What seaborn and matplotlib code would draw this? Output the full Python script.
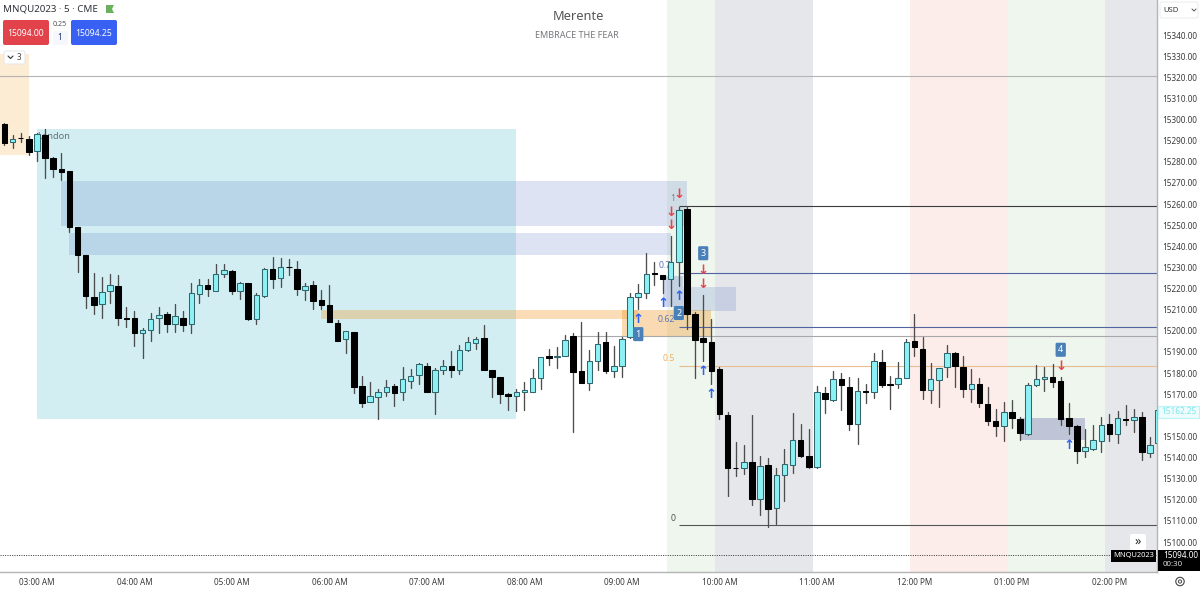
"""MNQU2023 5 minute candles with session bands and trade annotations."""
import matplotlib
matplotlib.use("Agg")
import matplotlib.pyplot as plt
import pandas as pd
import seaborn as sns
from matplotlib.patches import Circle, FancyBboxPatch, Polygon, Rectangle

first_bar = -4
bar_opens = [
    15297.9, 15289.2, 15291.4, 15290.6, 15285.2, 15292.5, 15282.0, 15276.4, 15275.5, 15249.0,
    15236.0, 15216.0, 15212.5, 15219.0, 15221.2, 15206.0, 15206.2, 15199.0, 15200.2, 15206.0,
    15208.1, 15203.3, 15205.9, 15203.2, 15217.4, 15221.7, 15219.0, 15226.7, 15228.1, 15218.6,
    15222.6, 15205.4, 15216.4, 15229.4, 15224.8, 15230.3, 15229.4, 15219.4, 15221.6, 15214.6,
    15212.0, 15203.8, 15195.9, 15199.4, 15173.8, 15166.3, 15168.5, 15170.8, 15173.8, 15170.8,
    15176.1, 15179.0, 15183.5, 15170.8, 15181.6, 15183.2, 15181.6, 15190.9, 15194.0, 15196.4,
    15181.3, 15178.0, 15170.2, 15169.3, 15170.8, 15171.2, 15177.5, 15188.0, 15187.4, 15187.9,
    15197.5, 15181.1, 15175.4, 15185.5, 15194.8, 15180.8, 15183.5, 15197.2, 15216.1, 15217.7,
    15227.3, 15226.2, 15224.5, 15232.7, 15257.6, 15207.9, 15196.6, 15194.8, 15181.7, 15160.0,
    15135.2, 15135.2, 15137.7, 15120.4, 15136.5, 15116.3, 15131.6, 15136.3, 15148.3, 15140.9,
    15135.3, 15170.5, 15167.1, 15177.0, 15173.5, 15156.0, 15171.6, 15170.8, 15185.4, 15174.8,
    15174.6, 15177.5, 15195.1, 15191.4, 15172.1, 15176.7, 15182.7, 15189.3, 15183.0, 15172.3,
    15174.8, 15165.5, 15157.1, 15154.8, 15161.5, 15158.4, 15151.3, 15174.3, 15177.0, 15178.1,
    15176.2, 15158.5, 15154.9, 15143.1, 15144.0, 15147.6, 15155.7, 15151.3, 15158.4, 15157.6,
    15159.3, 15142.3, 15147.0,
]
bar_closes = [
    15289.0, 15290.9, 15291.1, 15284.6, 15293.1, 15282.0, 15276.6, 15275.1, 15249.0, 15236.0,
    15216.4, 15212.2, 15218.5, 15221.7, 15206.0, 15205.7, 15199.0, 15200.3, 15205.4, 15207.4,
    15203.2, 15206.8, 15202.9, 15217.7, 15221.7, 15219.9, 15226.9, 15228.8, 15219.0, 15222.6,
    15205.4, 15216.8, 15229.1, 15224.5, 15230.0, 15230.0, 15219.9, 15221.3, 15214.1, 15212.2,
    15204.3, 15195.1, 15199.7, 15173.5, 15166.0, 15169.3, 15171.2, 15173.5, 15170.5, 15177.0,
    15178.4, 15184.1, 15170.8, 15181.6, 15183.5, 15181.6, 15190.9, 15194.8, 15195.9, 15181.6,
    15178.0, 15170.2, 15169.3, 15170.8, 15171.8, 15177.5, 15187.7, 15187.0, 15188.0, 15195.5,
    15180.6, 15175.4, 15185.8, 15193.6, 15180.8, 15183.3, 15196.3, 15215.8, 15217.7, 15226.7,
    15226.7, 15224.5, 15232.7, 15257.2, 15207.8, 15195.6, 15194.7, 15180.8, 15160.4, 15134.9,
    15134.9, 15138.0, 15120.4, 15136.1, 15115.5, 15131.6, 15137.0, 15148.3, 15140.6, 15135.7,
    15170.8, 15167.7, 15177.3, 15174.5, 15156.0, 15171.5, 15171.2, 15185.8, 15174.2, 15174.3,
    15177.8, 15194.8, 15192.1, 15172.1, 15177.0, 15182.2, 15189.3, 15183.2, 15172.3, 15174.8,
    15165.6, 15157.3, 15154.9, 15161.4, 15158.5, 15151.8, 15174.2, 15177.0, 15177.9, 15175.9,
    15158.0, 15155.1, 15143.2, 15145.1, 15148.3, 15155.4, 15151.1, 15158.5, 15157.9, 15159.0,
    15142.8, 15146.0, 15162.25,
]
bar_highs = [
    15298.5, 15292.8, 15293.4, 15292.2, 15293.8, 15295.3, 15282.1, 15284.0, 15275.5, 15249.0,
    15236.0, 15227.2, 15225.6, 15226.7, 15226.2, 15211.4, 15209.2, 15201.1, 15208.2, 15211.4,
    15209.0, 15212.5, 15209.2, 15222.8, 15224.7, 15224.3, 15231.7, 15231.7, 15228.8, 15223.2,
    15222.6, 15217.7, 15229.5, 15234.7, 15234.3, 15233.8, 15233.0, 15222.4, 15223.4, 15219.1,
    15221.7, 15205.1, 15200.0, 15199.4, 15178.6, 15175.9, 15172.6, 15176.7, 15174.8, 15182.7,
    15181.7, 15184.9, 15184.9, 15182.2, 15186.2, 15190.3, 15193.3, 15197.2, 15197.2, 15202.7,
    15181.4, 15178.1, 15170.4, 15172.3, 15175.9, 15181.7, 15187.7, 15191.2, 15192.1, 15198.0,
    15198.8, 15204.0, 15190.9, 15199.6, 15199.3, 15192.8, 15197.2, 15218.0, 15222.1, 15236.6,
    15232.4, 15226.4, 15244.8, 15258.7, 15259.0, 15208.7, 15216.9, 15205.6, 15182.7, 15161.5,
    15147.5, 15145.9, 15160.1, 15140.7, 15139.6, 15134.9, 15143.9, 15160.9, 15155.7, 15153.5,
    15173.9, 15173.2, 15181.0, 15180.2, 15178.3, 15177.8, 15174.8, 15189.3, 15190.9, 15178.7,
    15185.1, 15196.1, 15207.8, 15196.9, 15184.9, 15182.2, 15193.2, 15190.1, 15188.0, 15181.7,
    15177.8, 15173.2, 15163.0, 15166.1, 15167.2, 15159.0, 15175.1, 15183.8, 15183.0, 15184.3,
    15178.3, 15165.6, 15155.4, 15153.5, 15155.4, 15159.0, 15160.4, 15162.0, 15164.8, 15163.0,
    15161.4, 15149.5, 15162.25,
]
bar_lows = [
    15287.9, 15286.5, 15289.2, 15283.2, 15280.5, 15272.5, 15273.0, 15271.4, 15246.7, 15227.6,
    15211.0, 15208.0, 15206.0, 15213.3, 15202.9, 15201.8, 15192.8, 15187.2, 15195.0, 15198.8,
    15199.4, 15199.4, 15199.9, 15199.1, 15213.1, 15216.6, 15219.0, 15225.4, 15217.2, 15215.0,
    15205.1, 15203.0, 15216.1, 15220.2, 15220.9, 15226.4, 15216.9, 15214.6, 15210.3, 15210.3,
    15204.0, 15195.0, 15189.6, 15170.5, 15164.1, 15166.3, 15158.2, 15169.3, 15164.4, 15167.2,
    15172.9, 15174.8, 15170.8, 15160.4, 15179.7, 15178.0, 15179.5, 15190.6, 15191.5, 15181.4,
    15168.5, 15166.0, 15162.5, 15162.0, 15162.5, 15171.2, 15172.4, 15183.8, 15182.4, 15187.9,
    15152.2, 15175.1, 15172.0, 15181.4, 15180.2, 15178.0, 15178.3, 15196.4, 15210.1, 15215.3,
    15221.6, 15218.0, 15211.7, 15221.2, 15200.7, 15177.8, 15185.7, 15174.9, 15158.2, 15122.0,
    15131.4, 15132.2, 15117.5, 15112.8, 15107.3, 15108.5, 15119.6, 15132.8, 15140.4, 15134.9,
    15135.2, 15160.9, 15166.9, 15162.5, 15153.0, 15146.2, 15165.6, 15168.3, 15173.2, 15163.0,
    15173.1, 15177.5, 15188.2, 15167.7, 15166.0, 15163.8, 15178.0, 15173.5, 15168.8, 15166.4,
    15164.1, 15155.4, 15150.2, 15148.0, 15153.8, 15148.3, 15150.6, 15173.8, 15171.5, 15173.2,
    15155.4, 15151.1, 15137.5, 15140.1, 15143.5, 15142.8, 15148.0, 15147.0, 15155.4, 15152.2,
    15138.8, 15140.4, 15145.0,
]

# 15160 sits under the last price tag, so it has no label
price_ticks = [v for v in range(15100, 15341, 10) if v != 15160]
time_labels = ["03:00 AM", "04:00 AM", "05:00 AM", "06:00 AM", "07:00 AM", "08:00 AM",
               "09:00 AM", "10:00 AM", "11:00 AM", "12:00 PM", "01:00 PM", "02:00 PM"]
time_bars = [0, 12, 24, 36, 48, 60, 72, 84, 96, 108, 120, 132]

# session bands: start bar, end bar, colour
band_starts = [77.5, 83.5, 107.5, 119.5, 131.5]
band_ends = [83.5, 95.5, 119.5, 131.5, 138]
band_colors = ["#eef6ee", "#e6e7eb", "#fcedeb", "#eef6ee", "#e6e7eb"]

# boxes drawn on the chart: bar range, price range
zone_left = [-5, 0, 3, 4, 35, 72, 77, 79.5, 121]
zone_right = [-1, 59, 80, 78, 74, 83, 79.5, 86, 129]
zone_top = [15331, 15295.5, 15271, 15246.3, 15209.8, 15209.8, 15225.9, 15220.9, 15158.5]
zone_bottom = [15283.2, 15158.2, 15249.6, 15236, 15205.4, 15197.2, 15211.4, 15209.4, 15148.3]
zone_colors = ["#f5b04a", "#22aebf", "#5573c3", "#5573c3", "#f0941f", "#f0941f",
               "#5573c3", "#5573c3", "#55559f"]
zone_alpha = [0.24, 0.2, 0.2, 0.2, 0.32, 0.34, 0.28, 0.2, 0.3]

# levels: price, first bar, colour
level_prices = [15320.4, 15259, 15227.2, 15201.8, 15197.5, 15183.4, 15107.9]
level_starts = [-5, 79, 79, 79, 66.5, 79, 79]
level_colors = ["#b4b4b4", "#3c3c3c", "#50649f", "#50649f", "#a8a8a8", "#e8bd90", "#555555"]

sell_bars = [79, 78, 78, 82, 82, 126]
sell_prices = [15264.3, 15256.2, 15249.6, 15228.3, 15221.7, 15183.3]
buy_bars = [74, 77, 79, 82, 83, 127]
buy_prices = [15205.1, 15213.1, 15216, 15180.5, 15170, 15145.9]

badge_labels = ["1", "2", "3", "4"]
badge_bars = [74, 79, 82, 126]
badge_prices = [15198.4, 15208.4, 15236.7, 15191]

fib_labels = ["1", "0.7", "0.62", "0.5", "0"]
fib_prices = [15262.4, 15230.7, 15205.1, 15187.1, 15111.2]
fib_colors = ["#808080", "#5f77b8", "#5f77b8", "#f0b060", "#555555"]

sns.set_theme(style="white")
plt.rcParams["font.family"] = ["Noto Sans", "DejaVu Sans"]

bars = pd.DataFrame({"open": bar_opens, "close": bar_closes, "high": bar_highs, "low": bar_lows})
bars["bar"] = range(first_bar, first_bar + len(bars))
bars["bull"] = bars["close"] >= bars["open"]
wicks = bars.melt(id_vars="bar", value_vars=["low", "high"], value_name="price")

fig = plt.figure(figsize=(12, 5.9), dpi=100, facecolor="white")
ax = fig.add_axes([0, 18 / 590, 1157 / 1200, 572 / 590])

for start, end, color in zip(band_starts, band_ends, band_colors):
    ax.axvspan(start, end, color=color, lw=0, zorder=0)
for left, right, top, bottom, color, alpha in zip(zone_left, zone_right, zone_top, zone_bottom,
                                                  zone_colors, zone_alpha):
    ax.add_patch(Rectangle((left, bottom), right - left, top - bottom, facecolor=color,
                           alpha=alpha, lw=0, zorder=1))
for price, start, color in zip(level_prices, level_starts, level_colors):
    ax.hlines(price, start, 138, color=color, lw=0.8, zorder=2)
ax.axhline(15094, color="#333333", lw=0.7, ls=(0, (1, 1.4)), zorder=2)

ax.text(0, 15292, "London", fontsize=6.6, color="#62707a", va="center", zorder=2)
for label, price, color in zip(fib_labels, fib_prices, fib_colors):
    ax.text(78.0 if label == "0.7" else 78.55, price, label, fontsize=6.3, color=color,
            ha="right", va="center", zorder=2)

sns.lineplot(data=wicks, x="bar", y="price", units="bar", estimator=None, sort=False,
             color="#4d4d4d", lw=0.95, legend=False, ax=ax, zorder=3)
for is_bull, face, edge in [(True, "#8cf1f5", "#33666b"), (False, "#000000", "#000000")]:
    part = bars[bars["bull"] == is_bull]
    low = part[["open", "close"]].min(axis=1)
    high = part[["open", "close"]].max(axis=1)
    ax.bar(part["bar"], high - low, bottom=low, width=0.68, color=face, edgecolor=edge,
           linewidth=0.75, zorder=4)

for bar, price in zip(sell_bars, sell_prices):
    ax.text(bar, price, "↓", color="#e8434c", fontsize=9.5, fontweight="bold", ha="center",
            va="center", zorder=6)
for bar, price in zip(buy_bars, buy_prices):
    ax.text(bar, price, "↑", color="#2f62f0", fontsize=9.5, fontweight="bold", ha="center",
            va="center", zorder=6)
for label, bar, price in zip(badge_labels, badge_bars, badge_prices):
    ax.text(bar, price, label, color="white", fontsize=6.5, fontweight="bold", ha="center",
            va="center", zorder=7,
            bbox=dict(boxstyle="round,pad=0.28,rounding_size=0.15", fc="#4a80b8", ec="none"))

ax.set_xlim(-4.55, 137.85)
ax.set_ylim(15085.8, 15356.57)
ax.set_xlabel("")
ax.set_ylabel("")
ax.set_xticks(time_bars, time_labels)
ax.set_yticks(price_ticks, [f"{v:.2f}" for v in price_ticks])
ax.yaxis.tick_right()
ax.tick_params(axis="x", length=0, pad=4, labelsize=5.9, colors="#3c3c3c")
ax.tick_params(axis="y", length=0, pad=4, labelsize=5.9, colors="#3c3c3c")
sns.despine(ax=ax, left=True, top=True, right=False, bottom=False)
for side in ["right", "bottom"]:
    ax.spines[side].set_color("#b4b4b4")
    ax.spines[side].set_linewidth(1)

# chart chrome on a pixel overlay
ui = fig.add_axes([0, 0, 1, 1], facecolor="none")
ui.set_xlim(0, 1200)
ui.set_ylim(590, 0)
ui.axis("off")


def round_box(x, y, w, h, face, edge="none", radius=2):
    ui.add_patch(FancyBboxPatch((x + radius, y + radius), w - 2 * radius, h - 2 * radius,
                                boxstyle=f"round,pad={radius},rounding_size={radius}",
                                facecolor=face, edgecolor=edge, lw=0.7))


ui.text(3, 9, "MNQU2023 · 5 · CME", fontsize=7, color="#2f3338", va="center")
ui.add_patch(Polygon([(106, 5), (114, 5), (112, 9), (114, 13), (106, 13)], color="#6bb05d", lw=0))
round_box(3, 20, 46, 25, "#e2434b")
ui.text(26, 33, "15094.00", color="white", fontsize=6.2, ha="center", va="center")
round_box(71, 20, 46, 25, "#3860f2")
ui.text(94, 33, "15094.25", color="white", fontsize=6.2, ha="center", va="center")
ui.text(60, 24.5, "0.25", color="#555555", fontsize=5.2, ha="center", va="center")
round_box(53, 31, 15, 14, "#f5f7fd")
ui.text(60, 38, "1", color="#1f2f70", fontsize=5.8, ha="center", va="center")
round_box(4, 51, 21, 13, "white", "#e6e6e6")
ui.plot([8, 10.5, 13], [56, 58.5, 56], color="#333333", lw=0.8)
ui.text(19, 57.5, "3", color="#444444", fontsize=5.8, ha="center", va="center")

ui.text(578, 17, "Merente", fontsize=9.2, color="#555555", ha="center", va="center")
ui.text(577, 35, "EMBRACE THE FEAR", fontsize=6.5, color="#77797d", ha="center", va="center")

round_box(1160, 2, 38, 16, "white", "#ececec")
ui.text(1163, 10, "USD", fontsize=5.5, color="#333333", va="center")
ui.plot([1192, 1194, 1196], [9, 11, 9], color="#555555", lw=0.7)

ui.add_patch(Rectangle((1158, 406), 41, 11.5, facecolor="#edfcfd", edgecolor="#bdf3f6", lw=0.8))
ui.text(1178.5, 412, "15162.25", fontsize=5.9, color="#7fe6ec", ha="center", va="center")

round_box(1130, 534, 16, 16, "white")
ui.text(1138, 541, "»", fontsize=9, color="#222222", ha="center", va="center")
ui.add_patch(Rectangle((1111, 549.5), 45, 12.5, facecolor="black", lw=0))
ui.text(1133.5, 555.5, "MNQU2023", fontsize=5.4, color="white", ha="center", va="center")
ui.add_patch(Rectangle((1157.5, 550), 42.5, 21, facecolor="black", lw=0))
ui.text(1163, 555.5, "15094.00", fontsize=5.9, color="white", va="center", fontweight="bold")
ui.text(1163, 565, "00:30", fontsize=5.7, color="#d8d8d8", va="center")

ui.add_patch(Circle((1180, 581.5), 4.2, facecolor="none", edgecolor="#444444", lw=0.8))
ui.add_patch(Circle((1180, 581.5), 1.6, facecolor="none", edgecolor="#444444", lw=0.7))

fig.savefig("out.png", dpi=100)
